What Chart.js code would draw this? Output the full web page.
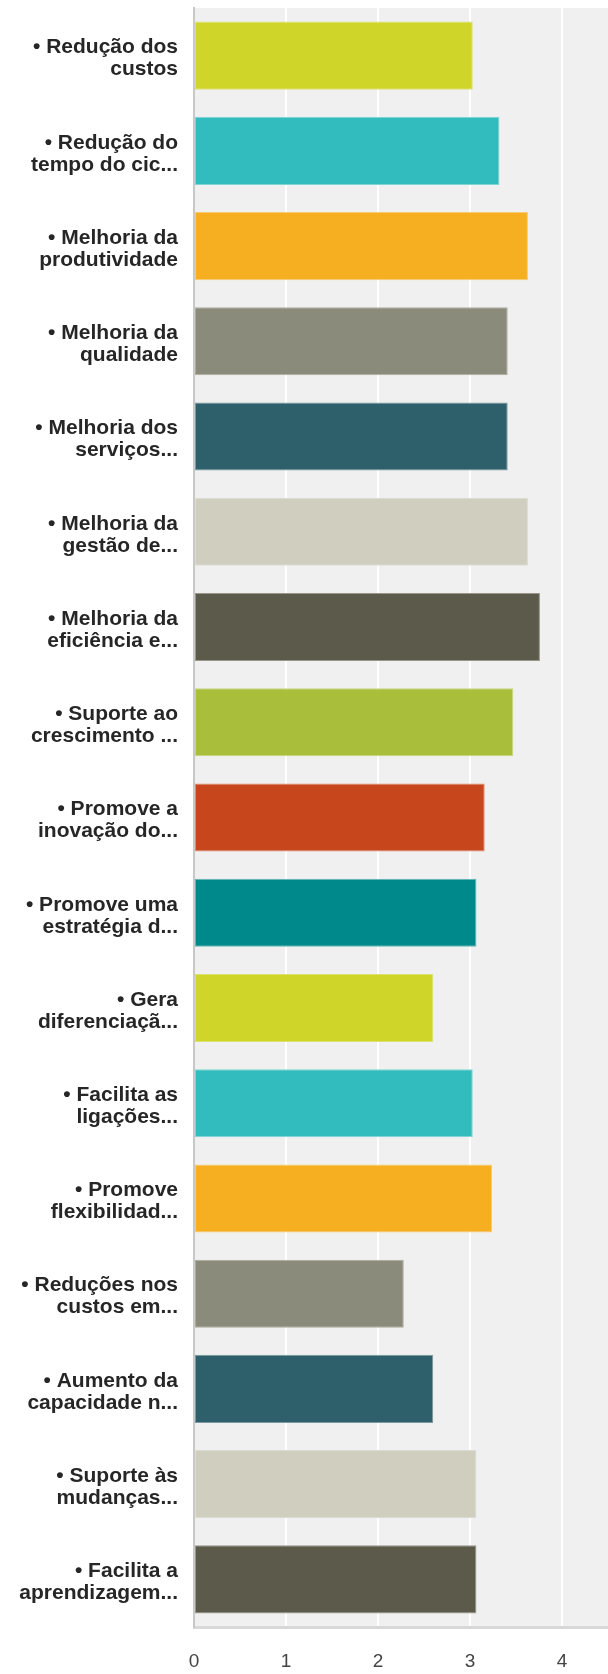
<!DOCTYPE html>
<html>
<head>
<meta charset="utf-8">
<title>Benefícios</title>
<script src="https://cdn.jsdelivr.net/npm/chart.js@4/dist/chart.umd.min.js"></script>
<style>
  html, body { margin: 0; padding: 0; background: #fff; }
  #wrap { width: 608px; height: 1674px; position: relative; }
</style>
</head>
<body>
<div id="wrap"><canvas id="benefitsChart"></canvas></div>
<script>
// Categories (two lines each, already shortened)
const categories = [
    ['• Redução dos', 'custos'],
    ['• Redução do', 'tempo do cic...'],
    ['• Melhoria da', 'produtividade'],
    ['• Melhoria da', 'qualidade'],
    ['• Melhoria dos', 'serviços...'],
    ['• Melhoria da', 'gestão de...'],
    ['• Melhoria da', 'eficiência e...'],
    ['• Suporte ao', 'crescimento ...'],
    ['• Promove a', 'inovação do...'],
    ['• Promove uma', 'estratégia d...'],
    ['• Gera', 'diferenciaçã...'],
    ['• Facilita as', 'ligações...'],
    ['• Promove', 'flexibilidad...'],
    ['• Reduções nos', 'custos em...'],
    ['• Aumento da', 'capacidade n...'],
    ['• Suporte às', 'mudanças...'],
    ['• Facilita a', 'aprendizagem...']
];

// Average rating per item
const averages = [3.03, 3.32, 3.63, 3.41, 3.41, 3.63, 3.76, 3.47, 3.16, 3.07, 2.60, 3.03, 3.24, 2.28, 2.60, 3.07, 3.07];

// Palette cycles every 10 bars
const palette = ['#D0D52A', '#33BCBE', '#F6AF20', '#8A8B7A', '#2E606C', '#D0CEBF', '#5C5A4B', '#A9BE3B', '#C8461C', '#00898A'];
const paletteEdge = ['#DCE06C', '#80D4D5', '#F8CA74', '#ABACA0', '#7C98A0', '#DEDCD0', '#98968A', '#C7D581', '#DC8B72', '#62B5B6'];

const barColors = averages.map((v, i) => palette[i % palette.length]);
const barEdges = averages.map((v, i) => paletteEdge[i % paletteEdge.length]);

// Grey plot background behind the bars
const plotBackground = {
    id: 'plotBackground',
    beforeDraw(chart) {
        const { ctx, chartArea } = chart;
        ctx.save();
        ctx.fillStyle = '#F0F0F0';
        ctx.fillRect(chartArea.left, chartArea.top, chartArea.right - chartArea.left, chartArea.bottom - chartArea.top);
        ctx.restore();
    }
};

const ctx = document.getElementById('benefitsChart').getContext('2d');
const benefitsChart = new Chart(ctx, {
    type: 'bar',
    data: {
        labels: categories,
        datasets: [{
            data: averages,
            backgroundColor: barColors,
            borderColor: barEdges,
            borderWidth: 1,
            borderSkipped: false,
            barPercentage: 0.715,
            categoryPercentage: 1
        }]
    },
    options: {
        indexAxis: 'y',
        responsive: true,
        maintainAspectRatio: false,
        animation: false,
        layout: { padding: { top: 8, right: 0, left: 0, bottom: 0 } },
        plugins: {
            legend: { display: false },
            tooltip: { enabled: false }
        },
        scales: {
            x: {
                min: 0,
                max: 4.5,
                ticks: {
                    stepSize: 1,
                    includeBounds: false,
                    padding: 23,
                    color: '#444',
                    font: { family: "Arial, 'Liberation Sans', sans-serif", size: 19 }
                },
                grid: { color: '#FFFFFF', lineWidth: 2, drawTicks: false },
                border: { display: true, color: '#D8D8D8', width: 3 },
                afterFit(scale) {
                    scale.height = 47;
                    scale.paddingLeft = 0;
                    scale.paddingRight = 0;
                }
            },
            y: {
                ticks: {
                    padding: 16,
                    labelOffset: 3,
                    color: '#262626',
                    font: { family: "Arial, 'Liberation Sans', sans-serif", size: 21, weight: 'bold', lineHeight: 1.05 }
                },
                grid: { display: false, drawTicks: false },
                border: { display: true, color: '#C8C8C8', width: 2 },
                afterFit(scale) {
                    scale.width = 194;
                    scale.paddingTop = 0;
                    scale.paddingBottom = 0;
                }
            }
        }
    },
    plugins: [plotBackground]
});
</script>
</body>
</html>
